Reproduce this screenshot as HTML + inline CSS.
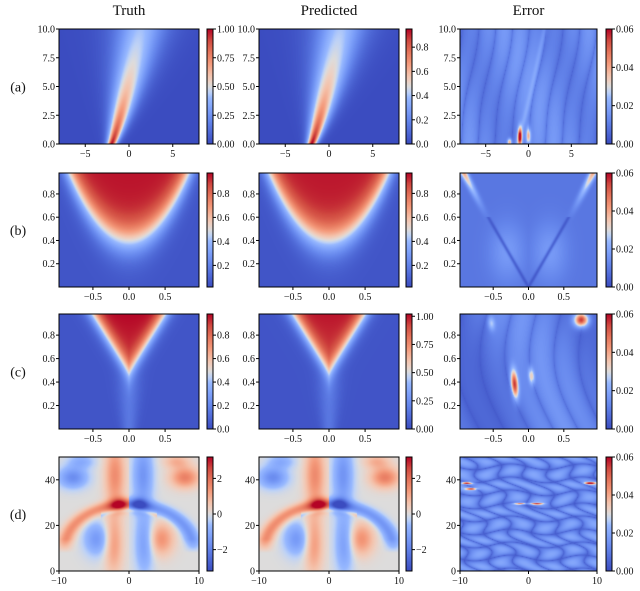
<!DOCTYPE html>
<html><head><meta charset="utf-8"><style>
html,body{margin:0;padding:0;background:#fff;}
#wrap{position:relative;width:640px;height:591px;overflow:hidden;}
canvas,svg{position:absolute;left:0;top:0;}
text{font-family:"Liberation Serif",serif;fill:#111;}
</style></head><body>
<div id="wrap">
<canvas id="cv" width="640" height="591"></canvas>
<svg id="sv" width="640" height="591"></svg>
</div>
<script>
// ---- data ----
const colTitles = ["Truth","Predicted","Error"];
const rowLabels = ["(a)","(b)","(c)","(d)"];
const rowY = [[29,144],[173,287],[314,429],[457,571]];
const colX = [[59,199],[259,399],[460,597]];
const cbX = [[207,213],[406,412],[606,612]];
const xDomains = [[-8,8],[-0.97,0.97],[-0.97,0.97],[-10,10]];
const yDomains = [[0,10],[0,0.98],[0,0.98],[0,50]];
const xTicks = [[-5,0,5],[-0.5,0,0.5],[-0.5,0,0.5],[-10,0,10]];
const xTickLabels = [["−5","0","5"],["−0.5","0.0","0.5"],["−0.5","0.0","0.5"],["−10","0","10"]];
const yTicks = [[0,2.5,5,7.5,10],[0.2,0.4,0.6,0.8],[0.2,0.4,0.6,0.8],[0,20,40]];
const yTickLabels = [["0.0","2.5","5.0","7.5","10.0"],["0.2","0.4","0.6","0.8"],["0.2","0.4","0.6","0.8"],["0","20","40"]];
const cbRange = [[[0,1],[0,0.95],[0,0.06]],[[0.02,0.97],[0.02,0.97],[0,0.06]],[[0,0.98],[0,1.02],[0,0.06]],[[-3.2,3.2],[-3.2,3.2],[0,0.06]]];
const cbTicks = [[[0,0.25,0.5,0.75,1],[0,0.2,0.4,0.6,0.8],[0,0.02,0.04,0.06]],
 [[0.2,0.4,0.6,0.8],[0.2,0.4,0.6,0.8],[0,0.02,0.04,0.06]],
 [[0,0.2,0.4,0.6,0.8],[0,0.25,0.5,0.75,1],[0,0.02,0.04,0.06]],
 [[-2,0,2],[-2,0,2],[0,0.02,0.04,0.06]]];
const cbLabels = [[["0.00","0.25","0.50","0.75","1.00"],["0.0","0.2","0.4","0.6","0.8"],["0.00","0.02","0.04","0.06"]],
 [["0.2","0.4","0.6","0.8"],["0.2","0.4","0.6","0.8"],["0.00","0.02","0.04","0.06"]],
 [["0.0","0.2","0.4","0.6","0.8"],["0.00","0.25","0.50","0.75","1.00"],["0.00","0.02","0.04","0.06"]],
 [["−2","0","2"],["−2","0","2"],["0.00","0.02","0.04","0.06"]]];
const errSpotsA = [[-1,0.6,0.05,0.25,0.8],[0,0.7,0.03,0.25,0.7],[-2.2,0.15,0.03,0.25,0.3]];
const errSpotsC = [[-0.2,0.38,0.045,0.05,0.12],[0.05,0.45,0.025,0.04,0.07],[0.75,0.93,0.05,0.1,0.06],[-0.45,0.9,0.015,0.05,0.06]];
const errSpotsD = [[-9,38.5,0.05,0.8,0.5],[-8.3,36,0.04,0.8,0.5],[9,38.5,0.05,0.8,0.5],[-1.3,29.5,0.04,0.9,0.4],[1.2,29.5,0.04,0.9,0.4]];

// ---- colormap ----
const cmap=[[0,59,76,192],[0.1,78,104,214],[0.2,100,133,235],[0.3,124,159,249],[0.4,151,184,255],[0.45,190,210,246],[0.5,221,220,220],[0.55,238,208,194],[0.6,244,194,171],[0.7,244,154,123],[0.8,229,116,91],[0.9,208,73,64],[1,180,4,38]];
function col(v){v=Math.max(0,Math.min(1,v));for(let i=1;i<cmap.length;i++){if(v<=cmap[i][0]){const a=cmap[i-1],b=cmap[i],t=(v-a[0])/(b[0]-a[0]);return [a[1]+(b[1]-a[1])*t,a[2]+(b[2]-a[2])*t,a[3]+(b[3]-a[3])*t];}}return [180,4,38];}
const sq=z=>z*z;
const sig=z=>1/(1+Math.exp(-z));
const g=(x,y,cx,cy,sx,sy)=>Math.exp(-sq((x-cx)/sx)-sq((y-cy)/sy));
const sech2=z=>{const c=Math.cosh(z);return 1/(c*c);};
function spots(x,y,S){let s=0;for(const p of S)s+=p[2]*g(x,y,p[0],p[1],p[3],p[4]);return s;}

// ---- fields ----
function ca(t){return -2+3.3*Math.pow(t/10,0.85);}
function fa(x,t,k){const A=k/(1+0.14*t),w=0.5+0.22*t;return A*sech2((x-ca(t))/w);}
function ea(x,t){const c=ca(t);let e=0.014+0.003*Math.sin(0.6*x+0.3*t);
 const s=Math.abs(Math.sin(1.6*(x-c)+0.25*t+0.6*Math.sin(0.5*t)));e*=0.35+0.65*Math.pow(s,0.35);
 e+=0.006*g(x,t,c+0.6,t,0.3,20);return e+spots(x,t,errSpotsA);}
function fb(x,y){return 0.05+0.9*sig((y-0.4-0.85*x*x)/0.09);}
function eb(x,y){let e=0.009+0.008*g(Math.abs(x),y,0.3,0.3,0.25,0.25);
 const d=Math.abs(Math.abs(x)-0.95*y);e*=1-0.7*Math.exp(-d*d/0.0008)*(y<0.6?1:0);
 const dr=Math.abs(Math.abs(x)-(0.55+(y-0.55)*0.85));if(y>0.5)e+=0.035*sq((y-0.5)/0.5)*Math.exp(-dr*dr/0.003);
 return e;}
function fc(x,y){return 0.03+0.95*sig((y-0.48-Math.abs(x))/0.06)*(0.85+0.15*y)+0.12*Math.exp(-x*x/(0.01+0.05*y))*sig((0.45-y)/0.05);}
function ec(x,y){let e=0.011+0.005*Math.sin(3*x+2*y);
 const s=Math.abs(Math.sin(9*(x+0.2*y)+2*Math.sin(3*y)));e*=0.4+0.6*Math.pow(s,0.4);
 return e+spots(x+0.15*(y-0.4)*(x<0.3?1:0),y,errSpotsC);}
function fd(x,y){const a=Math.abs(x),s=x<0?1:-1;let u=0;
 u+=1.5*g(a,y,2.0,42,1.4,14);u+=1.3*g(a,y,2.2,12,1.3,13);u+=1.8*g(a,y,1.3,29,1.2,3);
 const r=Math.sqrt(sq(a/9)+sq((y-10)/19));if(y>8)u+=1.5*Math.exp(-sq((r-1.02)/0.12))*Math.min(1,(y-8)/6);
 u-=0.8*Math.exp(-sq((r-0.88)/0.05))*(a<4?1:0)*(y>14?1:0);
 u-=1.4*g(a,y,4.6,14,1.8,7);u-=1.7*g(a,y,8,41,2.0,4.5);u-=0.9*g(a,y,6.8,48,1.8,3);
 return s*u;}
function ed(x,y){const f=Math.sin(0.9*x+Math.sin(0.5*y)+0.3*y)*Math.sin(0.55*y+0.7*Math.sin(0.6*x));
 return 0.003+0.017*Math.pow(Math.abs(f),0.5)+spots(x,y,errSpotsD);}
const fields=[[(x,y)=>fa(x,y,1),(x,y)=>fa(x,y,0.97),ea],[fb,(x,y)=>fb(x,y)*0.995,eb],[fc,(x,y)=>fc(x,y)*1.02,ec],[fd,(x,y)=>fd(x,y)*1.02,ed]];

// ---- render ----
const cv=document.getElementById('cv'),ctx=cv.getContext('2d');
const img=ctx.createImageData(640,591),D=img.data;
for(let i=0;i<D.length;i+=4){D[i]=D[i+1]=D[i+2]=D[i+3]=255;}
function put(px,py,c){const i=(py*640+px)*4;D[i]=c[0];D[i+1]=c[1];D[i+2]=c[2];}
for(let r=0;r<4;r++)for(let c=0;c<3;c++){
 const [x0,x1]=colX[c],[y0,y1]=rowY[r],[xa,xb]=xDomains[r],[ya,yb]=yDomains[r],[vmin,vmax]=cbRange[r][c],F=fields[r][c];
 for(let py=y0;py<y1;py++)for(let px=x0;px<x1;px++){
  const x=xa+(px+0.5-x0)/(x1-x0)*(xb-xa),y=yb-(py+0.5-y0)/(y1-y0)*(yb-ya);
  put(px,py,col((F(x,y)-vmin)/(vmax-vmin)));}
 const [cx0,cx1]=cbX[c];
 for(let py=y0;py<y1;py++){const v=1-(py+0.5-y0)/(y1-y0);const cc=col(v);for(let px=cx0;px<cx1;px++)put(px,py,cc);}
}
ctx.putImageData(img,0,0);

// ---- axes overlay ----
const sv=document.getElementById('sv'),NS='http://www.w3.org/2000/svg';
function el(tag,attrs,txt){const e=document.createElementNS(NS,tag);for(const k in attrs)e.setAttribute(k,attrs[k]);if(txt!==undefined)e.textContent=txt;sv.appendChild(e);return e;}
colTitles.forEach((t,c)=>{const e=el('text',{x:(colX[c][0]+colX[c][1])/2,y:15,'font-size':15,'text-anchor':'middle'},t);
 
 });
rowLabels.forEach((t,r)=>{const e=el('text',{x:18,y:(rowY[r][0]+rowY[r][1])/2+5,'font-size':14,'text-anchor':'middle'},t);
 
 });
for(let r=0;r<4;r++)for(let c=0;c<3;c++){
 const [x0,x1]=colX[c],[y0,y1]=rowY[r],[xa,xb]=xDomains[r],[ya,yb]=yDomains[r];
 const sx=v=>x0+(v-xa)/(xb-xa)*(x1-x0),sy=v=>y1-(v-ya)/(yb-ya)*(y1-y0);
 const fr=el('rect',{x:x0,y:y0,width:x1-x0,height:y1-y0,fill:'none',stroke:'#000','stroke-width':1});
 
 
 xTicks[r].forEach((v,i)=>{const X=sx(v);el('line',{x1:X,x2:X,y1:y1,y2:y1+3,stroke:'#000'});
  const t=el('text',{x:X,y:y1+13,'font-size':10,'text-anchor':'middle'},xTickLabels[r][i]);
  
  });
 yTicks[r].forEach((v,i)=>{const Y=sy(v);el('line',{x1:x0-3,x2:x0,y1:Y,y2:Y,stroke:'#000'});
  const t=el('text',{x:x0-4,y:Y+3.5,'font-size':10,'text-anchor':'end'},yTickLabels[r][i]);
  
  });
 const [cx0,cx1]=cbX[c],[vmin,vmax]=cbRange[r][c];
 const cb=el('rect',{x:cx0,y:y0,width:cx1-cx0,height:y1-y0,fill:'none',stroke:'#000','stroke-width':1});
 
 
 cbTicks[r][c].forEach((v,i)=>{const Y=y1-(v-vmin)/(vmax-vmin)*(y1-y0);el('line',{x1:cx1,x2:cx1+3,y1:Y,y2:Y,stroke:'#000'});
  const t=el('text',{x:cx1+4,y:Y+3.5,'font-size':10},cbLabels[r][c][i]);
  
  });
}
</script>
</body></html>
